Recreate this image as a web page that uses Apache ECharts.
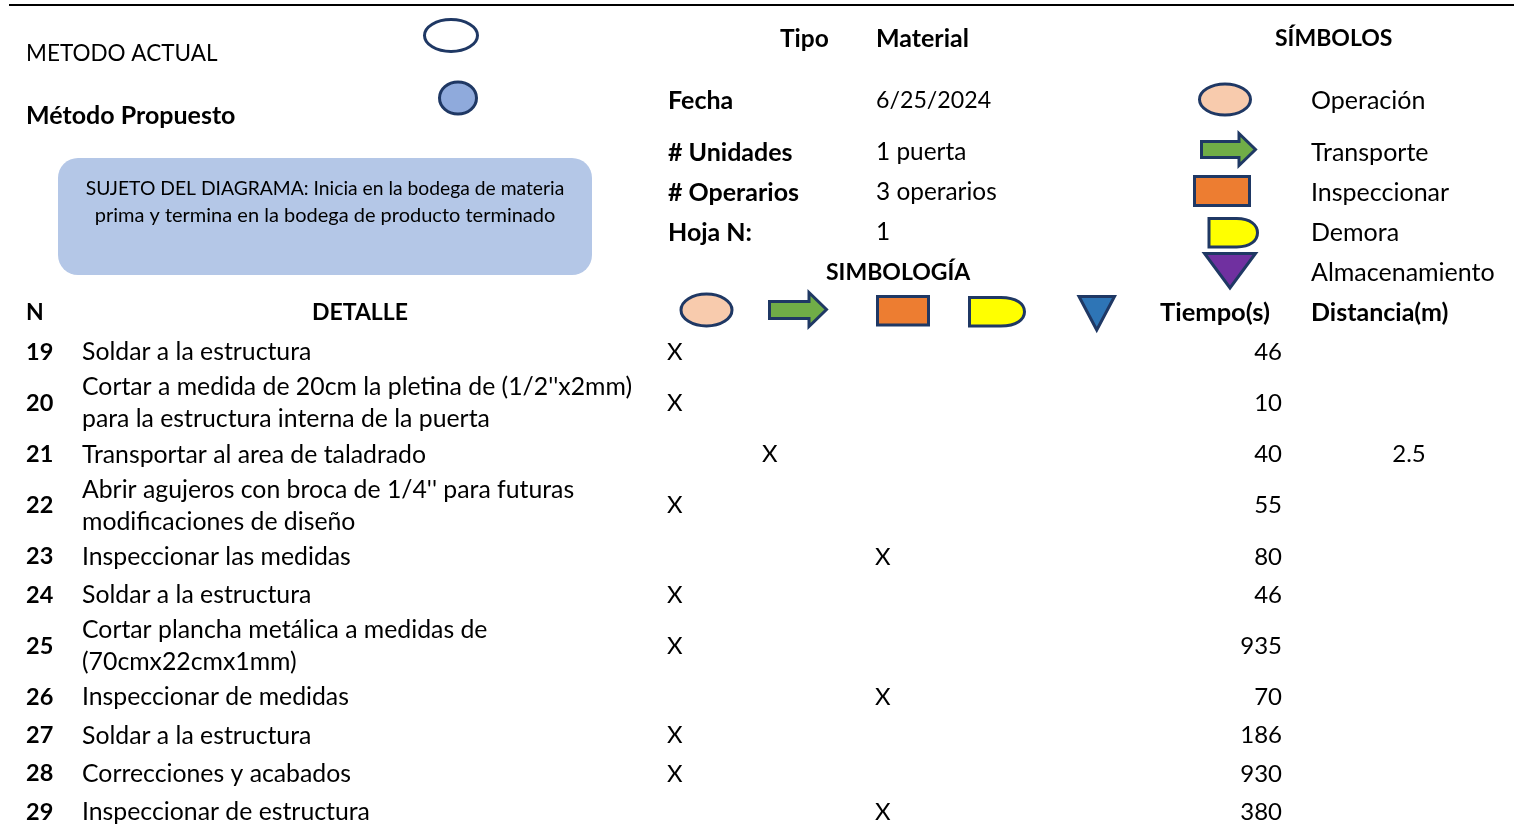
<!DOCTYPE html>
<html>
<head>
<meta charset="utf-8">
<style>
    html, body { margin: 0; padding: 0; background: #fff; }
    #main { width: 1514px; height: 825px; }
</style>
<script src="https://cdn.jsdelivr.net/npm/echarts@6/dist/echarts.min.js"></script>
</head>
<body>
<div id="main"></div>
<script>
// datos de la tabla
let rowNumbers = ['19', '20', '21', '22', '23', '24', '25', '26', '27', '28', '29']
let rowDetails = [
    'Soldar a la estructura',
    'Cortar a medida de 20cm la pletina de (1/2\'\'x2mm)\npara la estructura interna de la puerta',
    'Transportar al area de taladrado',
    'Abrir agujeros con broca de 1/4\'\' para futuras\nmodificaciones de diseño',
    'Inspeccionar las medidas',
    'Soldar a la estructura',
    'Cortar plancha metálica a medidas de\n(70cmx22cmx1mm)',
    'Inspeccionar de medidas',
    'Soldar a la estructura',
    'Correcciones y acabados',
    'Inspeccionar de estructura'
]
let rowTypes = ['op', 'op', 'tr', 'op', 'in', 'op', 'op', 'in', 'op', 'op', 'in']
let rowTimes = [46, 10, 40, 55, 80, 46, 935, 70, 186, 930, 380]
let rowDistances = [null, null, 2.5, null, null, null, null, null, null, null, null]

let infoLabels = ['Fecha', '# Unidades', '# Operarios', 'Hoja N:']
let infoValues = ['6/25/2024', '1 puerta', '3 operarios', '1']
let symbolNames = ['Operación', 'Transporte', 'Inspeccionar', 'Demora', 'Almacenamiento']

// columnas (eje x en px de la hoja)
let colX = { num: 26, detail: 82, op: 667, tr: 762, in: 875, time: 1282, dist: 1409 }
let infoY = [100, 152, 192, 232]
let symbolY = [100, 152, 192, 232, 272]

const FONT = 'Lato'
const NAVY = '#1f3864'
const SIZE = 25
const BOLD = 25

// la altura de cada fila sale del numero de lineas del texto
function rowCenters() {
    let res = []
    let y = 0
    for (let i = 0; i < rowDetails.length; i++) {
        let h = rowDetails[i].indexOf('\n') >= 0 ? 1.68 : 1
        res.push(y + h / 2)
        y += h
    }
    return res
}
let centers = rowCenters()

function textSeries(name, points, extra) {
    return {
        name: name,
        type: 'scatter',
        symbolSize: 0,
        silent: true,
        itemStyle: { opacity: 1 },
        data: points,
        label: Object.assign({
            show: true,
            position: 'inside',
            fontFamily: FONT,
            fontSize: 24.8,
            color: '#000',
            opacity: 1,
            lineHeight: 32,
            formatter: function (p) { return p.value[2] }
        }, extra)
    }
}

function text(x, y, str, bold, align, size) {
    return {
        type: 'text',
        x: x,
        y: y + 1,
        silent: true,
        style: {
            text: str,
            fontFamily: FONT,
            fontSize: size || (bold ? BOLD : SIZE),
            fontWeight: bold ? 'bold' : 'normal',
            fill: '#000',
            align: align || 'left',
            verticalAlign: 'middle'
        }
    }
}

// forma de "demora": rectangulo con lado derecho redondeado
echarts.graphic.registerShape('delay', echarts.graphic.extendShape({
    shape: { x: 0, y: 0, width: 0, height: 0 },
    buildPath: function (ctx, s) {
        let xm = s.x + s.width * 0.57
        let x2 = s.x + s.width
        let y2 = s.y + s.height
        let ym = s.y + s.height / 2
        ctx.moveTo(s.x, s.y)
        ctx.lineTo(xm, s.y)
        ctx.bezierCurveTo(xm + s.width * 0.29, s.y, x2, s.y + s.height * 0.24, x2, ym)
        ctx.bezierCurveTo(x2, y2 - s.height * 0.24, xm + s.width * 0.29, y2, xm, y2)
        ctx.lineTo(s.x, y2)
        ctx.closePath()
    }
}))

function shapeStyle(fill) {
    return { fill: fill, stroke: NAVY, lineWidth: 3 }
}
function ellipse(cx, cy, rx, ry, fill) {
    return { type: 'ellipse', shape: { cx: cx, cy: cy, rx: rx, ry: ry }, style: shapeStyle(fill), silent: true }
}
function box(x, y, w, h, fill) {
    return { type: 'rect', shape: { x: x, y: y, width: w, height: h }, style: shapeStyle(fill), silent: true }
}
function arrow(x1, x2, xh, y1, y2, sy1, sy2, fill) {
    return {
        type: 'polygon',
        shape: { points: [[x1, sy1], [xh, sy1], [xh, y1], [x2, (y1 + y2) / 2], [xh, y2], [xh, sy2], [x1, sy2]] },
        style: shapeStyle(fill),
        silent: true
    }
}
function triangle(x1, x2, y1, y2, fill) {
    return {
        type: 'polygon',
        shape: { points: [[x1, y1], [x2, y1], [(x1 + x2) / 2, y2]] },
        style: shapeStyle(fill),
        silent: true
    }
}
function delay(x, y, w, h, fill) {
    return { type: 'delay', shape: { x: x, y: y, width: w, height: h }, style: shapeStyle(fill), silent: true }
}

let graphics = [
    { type: 'rect', shape: { x: 9, y: 4, width: 1505, height: 2 }, style: { fill: '#000' }, silent: true },
    ellipse(451, 35.5, 26.5, 16, '#fff'),
    ellipse(458, 98, 18.5, 16, '#8faadc'),
    { type: 'rect', shape: { x: 58, y: 158, width: 534, height: 117, r: 20 }, style: { fill: '#b4c7e7' }, silent: true },
    text(26, 53, 'METODO ACTUAL', false, 'left', 22.5),
    text(26, 115, 'Método Propuesto', true),
    text(325, 188, 'SUJETO DEL DIAGRAMA: Inicia en la bodega de materia', false, 'center', 19.3),
    text(325, 215, 'prima y termina en la bodega de producto terminado', false, 'center', 20),
    text(780, 38, 'Tipo', true, 'left', 24.5),
    text(876, 38, 'Material', true),
    text(1275, 38, 'SÍMBOLOS', true, 'left', 23),
    text(826, 272, 'SIMBOLOGÍA', true, 'left', 23),
    text(26, 312, 'N', true, 'left', 23),
    text(360, 312, 'DETALLE', true, 'center', 23),
    text(1160, 312, 'Tiempo(s)', true, 'left', 25.5),
    text(1311, 312, 'Distancia(m)', true),
    // simbolos de la derecha
    ellipse(1225, 99.5, 25.5, 15.5, '#f8cbad'),
    arrow(1201.5, 1255.5, 1239, 133.5, 165.5, 141.5, 157.5, '#70ad47'),
    box(1194.5, 176.5, 55, 29, '#ed7d31'),
    delay(1209, 218.5, 48.5, 28.5, '#ffff00'),
    triangle(1204.5, 1255.5, 253.5, 288, '#7030a0'),
    // encabezado de la tabla
    ellipse(706.5, 310, 25.5, 16, '#f8cbad'),
    arrow(769.5, 826.5, 809, 292.5, 326.5, 301.5, 318.5, '#70ad47'),
    box(877.5, 296.5, 51, 28.5, '#ed7d31'),
    delay(969.5, 297.5, 55, 28.5, '#ffff00'),
    triangle(1079, 1114.5, 296.5, 330, '#2e75b6')
]
for (let i = 0; i < infoLabels.length; i++) {
    graphics.push(text(668, infoY[i], infoLabels[i], true))
    graphics.push(text(876, infoY[i] - 0.5, infoValues[i], false, 'left', i == 0 ? 23.2 : 24.4))
}
for (let i = 0; i < symbolNames.length; i++) {
    graphics.push(text(1311, symbolY[i] - 0.5, symbolNames[i], false))
}

let myChart = echarts.init(document.getElementById('main'))

let option = {
    animation: false,
    grid: { left: 0, right: 0, top: 0, bottom: 0 },
    xAxis: { type: 'value', min: 0, max: 1514, show: false },
    yAxis: { type: 'value', inverse: true, min: -8.72, max: 12.88, show: false },
    graphic: graphics,
    series: [
        textSeries('N', rowNumbers.map((v, i) => [colX.num, centers[i], v]), { position: 'right', distance: 0, fontWeight: 'bold', fontSize: 23.5 }),
        textSeries('Detalle', rowDetails.map((v, i) => [colX.detail, centers[i], v]), { position: 'right', distance: 0, align: 'left' }),
        textSeries('Tipo', rowTypes.map((v, i) => [colX[v], centers[i], 'X']), { position: 'right', distance: 0, fontSize: 24 }),
        textSeries('Tiempo', rowTimes.map((v, i) => [colX.time, centers[i], v]), { position: 'left', distance: 0, fontSize: 24 }),
        textSeries('Distancia', rowDistances.map((v, i) => [colX.dist, v === null ? null : centers[i], v]), { position: 'inside', fontSize: 24 })
    ]
}

myChart.setOption(option)
</script>
</body>
</html>
